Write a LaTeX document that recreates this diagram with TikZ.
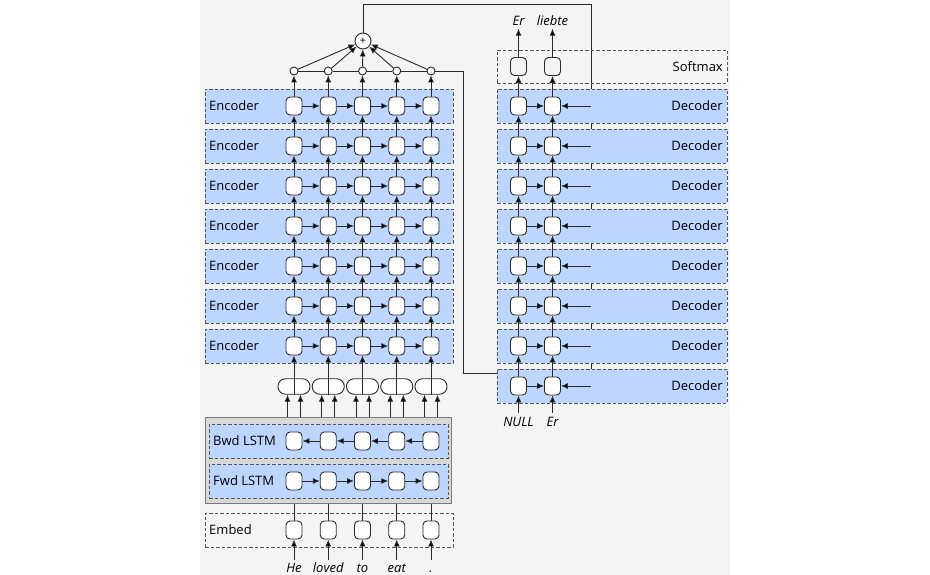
\documentclass[tikz,border=0pt]{standalone}
\usepackage{fontspec}
\setmainfont{Open Sans}
\usetikzlibrary{arrows.meta}
\definecolor{bgray}{HTML}{F4F4F4}
\definecolor{bandblue}{HTML}{BCD6FF}
\definecolor{edge}{HTML}{2A2A2A}
\definecolor{dashc}{HTML}{555555}
\definecolor{boxgray}{HTML}{D8D8D8}
\definecolor{boxedge}{HTML}{7A7A7A}
\begin{document}
\begin{tikzpicture}[x=1pt,y=-1pt,
  cell/.style={draw=edge, fill=white, line width=0.9pt, rounded corners=4pt,
    minimum width=16pt, minimum height=18pt, inner sep=0pt},
  band/.style={draw=dashc, fill=bandblue, line width=0.9pt, dash pattern=on 3.5pt off 2pt,
    inner sep=0pt},
  openband/.style={draw=dashc, line width=0.9pt, dash pattern=on 3.5pt off 2pt, inner sep=0pt},
  lbl/.style={font=\fontsize{13}{15}\selectfont, inner sep=0pt, text=black},
  word/.style={font=\fontsize{13}{15}\selectfont\itshape, inner sep=2.5pt, text height=9pt, text depth=0pt},
  arr/.style={draw=edge, line width=0.9pt, -{Latex[length=7pt,width=6pt,fill=black]}},
  con/.style={draw=edge, line width=0.9pt},
  dot/.style={circle, draw=edge, fill=white, line width=0.9pt, minimum size=8pt, inner sep=0pt},
  pill/.style={draw=edge, fill=white, line width=0.9pt, rounded corners=7.5pt,
    minimum width=32pt, minimum height=15.5pt, inner sep=0pt}
]
\useasboundingbox (0,0) rectangle (930,575);
\fill[white] (0,0) rectangle (930,575);
\fill[bgray] (200,0) rectangle (730,575);

% ---------------- Encoder bands and cells
\foreach \r in {1,...,7}{
  \pgfmathsetmacro{\yy}{106+40*(\r-1)}
  \node[band, minimum width=248pt, minimum height=34pt] (encband-\r) at (329,\yy) {};
  \node[lbl, anchor=west] (enclbl-\r) at (209,\yy) {Encoder};
  \foreach \c in {1,...,5}{
    \pgfmathsetmacro{\xx}{294+34.25*(\c-1)}
    \node[cell] (e-\r-\c) at (\xx,\yy) {};
  }
}
\foreach \r in {1,...,7}{
  \foreach \c [evaluate=\c as \cn using int(\c+1)] in {1,...,4}{
    \draw[arr] (e-\r-\c) -- (e-\r-\cn);
  }
}
\foreach \r [evaluate=\r as \rm using int(\r-1)] in {2,...,7}{
  \foreach \c in {1,...,5}{
    \draw[arr] (e-\r-\c) -- (e-\rm-\c);
  }
}

% ---------------- Concat nodes
\foreach \c in {1,...,5}{
  \pgfmathsetmacro{\xx}{294+34.25*(\c-1)}
  \node[pill] (cat-\c) at (\xx,386.5) {};
  \draw[con] (cat-\c.north) -- (cat-\c.south);
  \draw[arr] (cat-\c) -- (e-7-\c);
}

% ---------------- BiLSTM box
\node[draw=boxedge, fill=boxgray, line width=1.6pt, minimum width=246pt, minimum height=86pt, inner sep=0pt]
  (lstm) at (328.5,460.5) {};
\node[band, minimum width=239pt, minimum height=34pt] (bwdband) at (328.5,441) {};
\node[band, minimum width=239pt, minimum height=34pt] (fwdband) at (328.5,481) {};
\node[lbl, anchor=west] (bwdlbl) at (213,441) {Bwd LSTM};
\node[lbl, anchor=west] (fwdlbl) at (213,481) {Fwd LSTM};
\foreach \c in {1,...,5}{
  \pgfmathsetmacro{\xx}{294+34.25*(\c-1)}
  \node[cell] (b-\c) at (\xx,441) {};
  \node[cell] (f-\c) at (\xx,481) {};
  \coordinate (lo-\c) at (\xx-6.5,417);
  \coordinate (ro-\c) at (\xx+6.5,417);
  \draw[arr] (lo-\c) -- (lo-\c |- cat-\c.south);
  \draw[arr] (ro-\c) -- (ro-\c |- cat-\c.south);
}
\foreach \c [evaluate=\c as \cn using int(\c+1)] in {1,...,4}{
  \draw[arr] (b-\cn) -- (b-\c);
  \draw[arr] (f-\c) -- (f-\cn);
}

% ---------------- Embed
\node[openband, minimum width=248pt, minimum height=34pt] (embband) at (329,530) {};
\node[lbl, anchor=west] (emblbl) at (209,530) {Embed};
\foreach \c/\w in {1/He,2/loved,3/to,4/eat,5/.}{
  \pgfmathsetmacro{\xx}{294+34.25*(\c-1)}
  \node[cell] (m-\c) at (\xx,530) {};
  \draw[con] (m-\c.north) -- (m-\c.north |- lstm.south);
  \node[word, anchor=base] (w-\c) at (\xx,572) {\w};
  \draw[arr] (w-\c.north) -- (m-\c.south);
}

% ---------------- Attention
\node[circle, draw=edge, fill=white, line width=0.9pt, minimum size=16pt, inner sep=0pt,
  font=\fontsize{11}{11}\selectfont] (plus) at (363,41) {+};
\foreach \c in {1,...,5}{
  \pgfmathsetmacro{\xx}{294+34.25*(\c-1)}
  \node[dot] (s-\c) at (\xx,71) {};
  \draw[arr] (e-1-\c) -- (s-\c);
  \draw[arr] (s-\c) -- (plus);
}
\foreach \c [evaluate=\c as \cn using int(\c+1)] in {1,...,4}{
  \draw[con] (s-\c.east) -- (s-\cn.west);
}
\coordinate (ctxA) at (463,71);
\coordinate (ctxB) at (463,373);
\coordinate (ctxC) at (518.5,373);
\draw[con] (s-5.east) -- (ctxA) -- (ctxB) -- (ctxC);

\coordinate (topL) at (363,4);
\coordinate (topR) at (591,4);
\coordinate (botR) at (591,386);
\draw[con] (plus.north) -- (topL) -- (topR) -- (botR);

% ---------------- Decoder
\node[openband, minimum width=230pt, minimum height=33pt] (smband) at (612,66.5) {};
\node[lbl, anchor=east] (smlbl) at (723,66.5) {Softmax};
\foreach \k/\w in {1/Er,2/liebte}{
  \pgfmathsetmacro{\xx}{518.5+34*(\k-1)}
  \node[cell, fill=bgray] (sm-\k) at (\xx,66.5) {};
  \node[word, anchor=base] (o-\k) at (\xx,26) {\w};
  \draw[arr] (sm-\k) -- (o-\k.south);
}
\foreach \r in {1,...,8}{
  \pgfmathsetmacro{\yy}{106+40*(\r-1)}
  \node[band, minimum width=230pt, minimum height=34pt] (decband-\r) at (612,\yy) {};
  \node[lbl, anchor=east] (declbl-\r) at (723,\yy) {Decoder};
  \foreach \k in {1,2}{
    \pgfmathsetmacro{\xx}{518.5+34*(\k-1)}
    \node[cell] (d-\r-\k) at (\xx,\yy) {};
  }
  \draw[arr] (d-\r-1) -- (d-\r-2);
  \coordinate (br-\r) at (591,\yy);
  \draw[arr] (br-\r) -- (d-\r-2);
}
\foreach \r [evaluate=\r as \rm using int(\r-1)] in {2,...,8}{
  \foreach \k in {1,2}{
    \draw[arr] (d-\r-\k) -- (d-\rm-\k);
  }
}
\foreach \k in {1,2}{
  \draw[arr] (d-1-\k) -- (sm-\k);
}
\foreach \k/\w in {1/NULL,2/Er}{
  \pgfmathsetmacro{\xx}{518.5+34*(\k-1)}
  \node[word, anchor=base, inner sep=4pt] (in-\k) at (\xx,426) {\w};
  \draw[arr] (in-\k.north) -- (d-8-\k.south);
}
\end{tikzpicture}
\end{document}
